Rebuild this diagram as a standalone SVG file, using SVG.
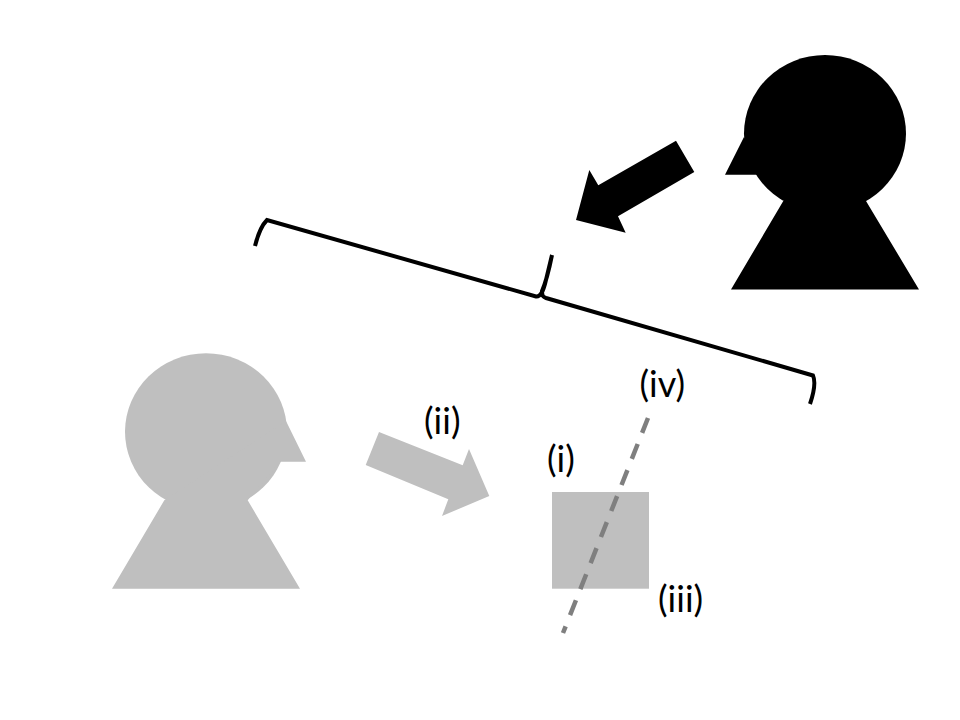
<svg xmlns="http://www.w3.org/2000/svg" width="960" height="720" viewBox="0 0 960 720">
<style>
.k{fill:#000}
.g{fill:#bfbfbf}
.t{font-family:"Lato","Liberation Sans",sans-serif;font-size:36px;fill:#000}
</style>
<rect width="960" height="720" fill="#fff"/>
<g id="viewer-black" class="k">
<ellipse cx="825" cy="133.5" rx="81" ry="78.5"/>
<path d="M744 137L725 174.7H757L783.3 201H866L919 289.5H731L783.3 201Z"/>
</g>
<g id="viewer-gray" class="g">
<ellipse cx="206" cy="431.8" rx="81" ry="78.5"/>
<path d="M286 421L306 461.7H280L247.7 500.3L300 588.7H112L164.3 500.3Z"/>
</g>
<g id="object"><rect class="g" x="552" y="492" width="97" height="96.7"/></g>
<g id="connectors">
<path id="arrow-black" class="k" d="M676 140.7L694.3 172L618 216.3L625.7 232.7L576 220L589.3 170L598.3 185.3Z"/>
<path id="arrow-gray" class="g" d="M379 432L462.7 465.3L469 449L489.3 496L442 516L448.3 499.3L365.7 465Z"/>
<path id="axis" d="M648 418L563 633" fill="none" stroke="#7f7f7f" stroke-width="4.5" stroke-dasharray="16 12"/>
<path id="brace" d="M255 246C258 234 261 226 267 220L536 296.5C541 297 543 291 545 284L552 255C549 270 546 282 542 291C542 296 543 297 546 298L813 375.5C816 382 814 392 810 404" fill="none" stroke="#000" stroke-width="4"/>
</g>
<g id="labels">
<text class="t" x="424" y="434">(ii)</text>
<text class="t" x="547" y="472">(i)</text>
<text class="t" x="658" y="612">(iii)</text>
<text class="t" x="639.5" y="397">(iv)</text>
</g>
</svg>
